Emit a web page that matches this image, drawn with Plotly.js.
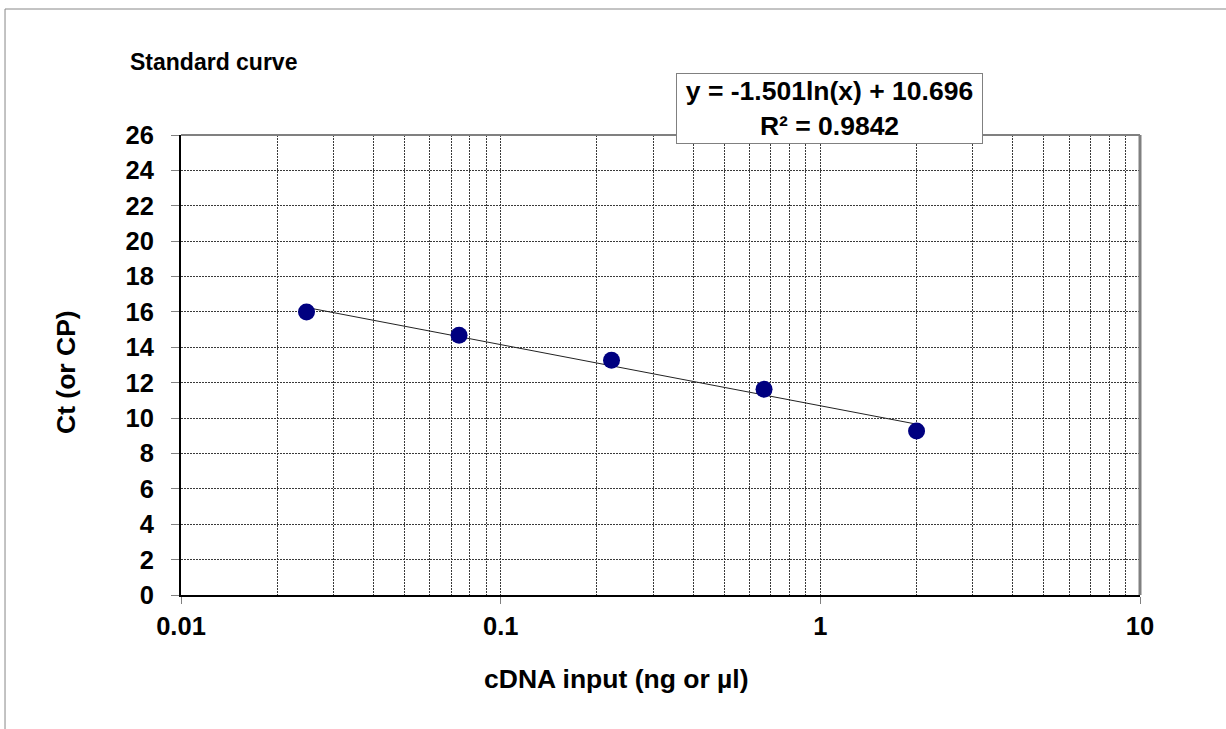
<!DOCTYPE html>
<html>
<head>
<meta charset="utf-8">
<script src="https://cdn.plot.ly/plotly-3.0.1.min.js"></script>
<style>
  html, body { margin: 0; padding: 0; background: #ffffff; }
  #chart { width: 1226px; height: 729px; }
</style>
</head>
<body>
<div id="chart"></div>
<script>
// ---- data ----
const cdnaInput = [0.0247, 0.0741, 0.2222, 0.6667, 2];
const ctValues  = [16.0, 14.68, 13.27, 11.63, 9.27];
const trendSlope = [-1.501];
const trendIntercept = [10.696];
const rSquared = [0.9842];
const xTickVals = [0.01, 0.1, 1, 10];
const xTickText = ['0.01', '0.1', '1', '10'];
const yTickVals = [0, 2, 4, 6, 8, 10, 12, 14, 16, 18, 20, 22, 24, 26];

const chartTitle = 'Standard curve';
const xTitle = 'cDNA input (ng or µl)';
const yTitle = 'Ct (or CP)';

// trendline evaluated from the fitted equation at the data x values
const trendY = cdnaInput.map(x => trendSlope[0] * Math.log(x) + trendIntercept[0]);

const FONT = 'Liberation Sans, Arial, sans-serif';

const traces = [
  {
    x: cdnaInput, y: trendY, type: 'scatter', mode: 'lines',
    line: { color: '#222222', width: 1 }, hoverinfo: 'skip', showlegend: false
  },
  {
    x: cdnaInput, y: ctValues, type: 'scatter', mode: 'markers',
    marker: { color: '#000080', size: 17, line: { width: 0 } }, showlegend: false
  }
];

const gridDash = '2px,1px';
const gridColor = '#3a3a3a';
const layout = {
  width: 1226, height: 729,
  margin: { l: 181, r: 86, t: 135, b: 134 },
  paper_bgcolor: '#ffffff', plot_bgcolor: '#ffffff',
  showlegend: false,
  title: {
    text: chartTitle,
    font: { family: FONT, size: 23, color: '#000', weight: 'bold' },
    x: 130 / 1226, xanchor: 'left', xref: 'container',
    y: 1 - 62 / 729, yanchor: 'middle', yref: 'container'
  },
  xaxis: {
    type: 'log', range: [-2, 1],
    tickvals: xTickVals, ticktext: xTickText,
    ticks: 'outside', ticklen: 7, tickcolor: '#808080', tickwidth: 1,
    tickfont: { family: FONT, size: 25.5, color: '#000', weight: 'bold' },
    showline: true, linecolor: '#000', linewidth: 2,
    showgrid: true, gridcolor: gridColor, gridwidth: 1, griddash: gridDash,
    minor: { dtick: 'D1', showgrid: true, gridcolor: gridColor, gridwidth: 1, griddash: gridDash, ticks: '' },
    zeroline: false
  },
  yaxis: {
    range: [0, 26], tickvals: yTickVals,
    ticks: 'outside', ticklen: 8, tickcolor: '#808080', tickwidth: 1,
    ticklabelstandoff: 12,
    tickfont: { family: FONT, size: 25.5, color: '#000', weight: 'bold' },
    showline: true, linecolor: '#000', linewidth: 2,
    showgrid: true, gridcolor: gridColor, gridwidth: 1, griddash: gridDash,
    zeroline: false
  },
  shapes: [
    // top & right plot border (gray)
    { type: 'line', xref: 'paper', yref: 'paper', x0: 0, x1: 1, y0: 1, y1: 1, line: { color: '#808080', width: 2 } },
    { type: 'line', xref: 'paper', yref: 'paper', x0: 1, x1: 1, y0: 0, y1: 1, line: { color: '#808080', width: 3 } },
    // outer chart frame (top & left visible)
    { type: 'line', xref: 'paper', yref: 'paper', x0: -0.1835, x1: 1.1, y0: 1.2739, y1: 1.2739, line: { color: '#888888', width: 1 } },
    { type: 'line', xref: 'paper', yref: 'paper', x0: -0.1835, x1: -0.1835, y0: -0.3, y1: 1.2739, line: { color: '#888888', width: 1 } }
  ],
  annotations: [
    {
      xref: 'paper', yref: 'paper',
      x: (829.5 - 181) / 959, y: (595 - 108.5) / 460,
      xanchor: 'center', yanchor: 'middle',
      text: 'y = ' + trendSlope[0].toFixed(3) + 'ln(x) + ' + trendIntercept[0].toFixed(3) + '<br>R² = ' + rSquared[0].toFixed(4),
      showarrow: false, align: 'center',
      font: { family: FONT, size: 26.5, color: '#000', weight: 'bold' },
      bgcolor: '#ffffff', bordercolor: '#808080', borderwidth: 1, borderpad: 2,
      width: 301, height: 65
    },
    {
      // x-axis title
      xref: 'paper', yref: 'paper',
      x: (616 - 181) / 959, y: (595 - 679) / 460,
      xanchor: 'center', yanchor: 'middle', showarrow: false,
      text: xTitle,
      font: { family: FONT, size: 26.5, color: '#000', weight: 'bold' }
    },
    {
      // y-axis title
      xref: 'paper', yref: 'paper',
      x: (66 - 181) / 959, y: (595 - 372) / 460,
      xanchor: 'center', yanchor: 'middle', showarrow: false, textangle: -90,
      text: yTitle,
      font: { family: FONT, size: 26.5, color: '#000', weight: 'bold' }
    }
  ]
};

Plotly.newPlot('chart', traces, layout, { staticPlot: true, displayModeBar: false });
</script>
</body>
</html>
